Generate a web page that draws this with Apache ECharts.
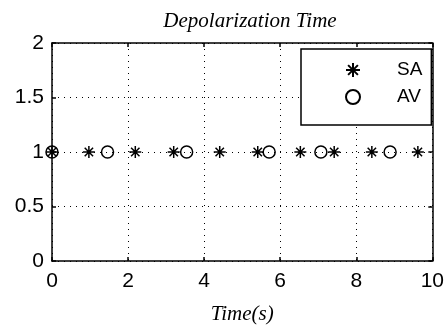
<!DOCTYPE html>
<html>
<head>
<meta charset="utf-8">
<script src="https://cdn.jsdelivr.net/npm/echarts@6/dist/echarts.min.js"></script>
<style>html,body{margin:0;padding:0;background:#fff;}#c{width:447px;height:330px;}</style>
</head>
<body>
<div id="c"></div>
<script>
var titleText = 'Depolarization Time';
var xName = 'Time(s)';
var saTimes = [0, 0.97, 2.19, 3.2, 4.41, 5.41, 6.53, 7.42, 8.41, 9.62];
var avTimes = [0, 1.46, 3.54, 5.71, 7.07, 8.89];
var saLevel = 1;
var avLevel = 1;
var seriesNames = ['SA', 'AV'];

var starPath = 'path://M0,5L10,5M5,0L5,10M1.5,1.5L8.5,8.5M8.5,1.5L1.5,8.5';
var tickFont = {fontFamily: 'Liberation Sans', fontSize: 21, color: '#000'};
var dotted = {color: '#000', width: 1, type: [1, 5]};
var frameLine = {show: true, onZero: false, lineStyle: {color: '#000', width: 1.5}};
var frameTick = {show: true, inside: true, length: 4, lineStyle: {color: '#000', width: 1.5}};

var chart = echarts.init(document.getElementById('c'), null, {renderer: 'canvas'});
chart.setOption({
  animation: false,
  backgroundColor: '#fff',
  title: {
    text: titleText, left: 245, top: 6, textAlign: 'center',
    textStyle: {fontFamily: 'Liberation Serif', fontStyle: 'italic', fontWeight: 'normal', fontSize: 21, color: '#000'}
  },
  grid: {left: 52, right: 9.5, top: 43, bottom: 67},
  legend: {
    orient: 'vertical', left: 301, top: 49,
    padding: [11, 9, 18, 44], itemGap: 7,
    itemWidth: 14, itemHeight: 14,
    backgroundColor: '#fff', borderColor: '#000', borderWidth: 1.5, borderRadius: 0,
    textStyle: {fontFamily: 'Liberation Sans', fontSize: 19, lineHeight: 20, color: '#000', padding: [0, 0, 0, 32]},
    data: seriesNames
  },
  xAxis: [{
    type: 'value', min: 0, max: 10, interval: 2,
    name: xName, nameLocation: 'middle', nameGap: 43,
    nameTextStyle: {fontFamily: 'Liberation Serif', fontStyle: 'italic', fontSize: 21, color: '#000'},
    axisLine: frameLine, axisTick: frameTick,
    axisLabel: Object.assign({margin: 10}, tickFont),
    splitLine: {show: true, lineStyle: dotted}
  }, {
    type: 'value', min: 0, max: 10, interval: 2, position: 'top',
    axisLine: frameLine, axisTick: frameTick,
    axisLabel: {show: false}, splitLine: {show: false}
  }],
  yAxis: [{
    type: 'value', min: 0, max: 2, interval: 0.5,
    axisLine: frameLine, axisTick: frameTick,
    axisLabel: Object.assign({margin: 8}, tickFont),
    splitLine: {show: true, lineStyle: dotted}
  }, {
    type: 'value', min: 0, max: 2, interval: 0.5, position: 'right',
    axisLine: frameLine, axisTick: frameTick,
    axisLabel: {show: false}, splitLine: {show: false}
  }],
  series: [{
    name: seriesNames[0], type: 'scatter', symbol: starPath, symbolSize: 12,
    itemStyle: {color: 'transparent', borderColor: '#000', borderWidth: 1.5, opacity: 1},
    data: saTimes.map(function (t) { return [t, saLevel]; }), z: 3
  }, {
    name: seriesNames[1], type: 'scatter', symbol: 'circle', symbolSize: 12,
    itemStyle: {color: 'transparent', borderColor: '#000', borderWidth: 1.5, opacity: 1},
    data: avTimes.map(function (t) { return [t, avLevel]; }), z: 3
  }]
});
</script>
</body>
</html>
